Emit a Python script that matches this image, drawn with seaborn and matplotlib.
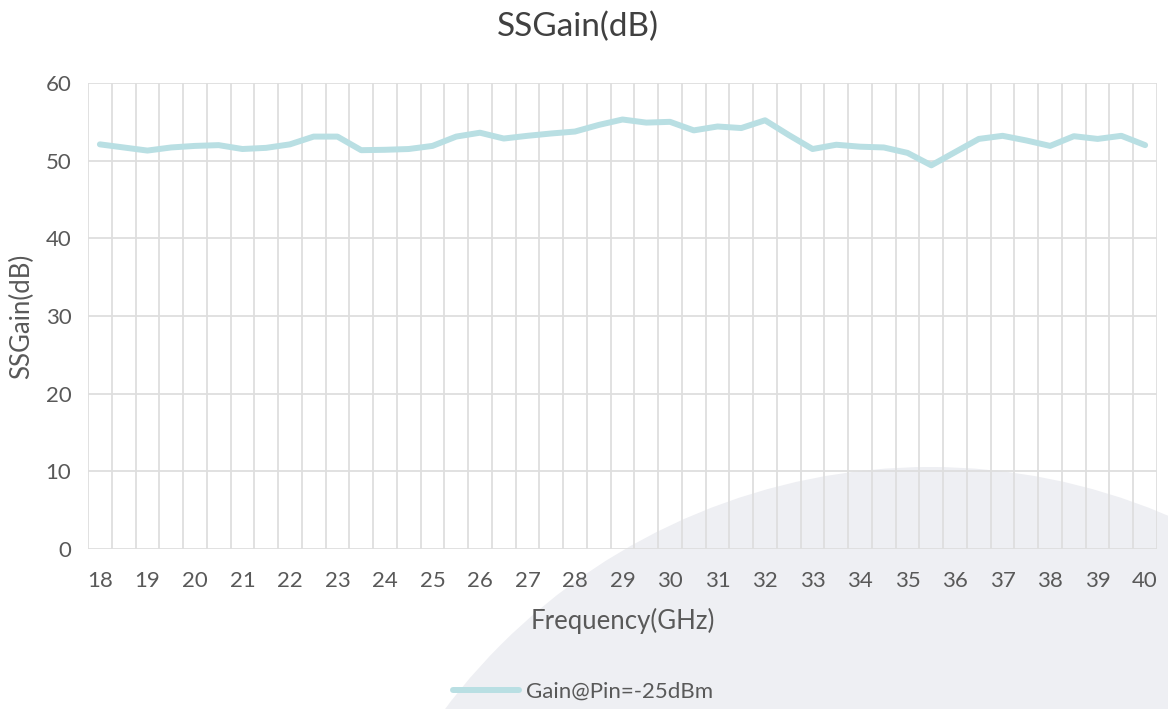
import numpy as np
import pandas as pd
import matplotlib
matplotlib.use("Agg")
import matplotlib.pyplot as plt
from matplotlib.patches import Ellipse
from matplotlib.ticker import MultipleLocator
import seaborn as sns

# ------------------------------
# Data
# ------------------------------
freq_ghz = np.arange(18.0, 40.01, 0.5)
gain_db = [52.1, 51.7, 51.3, 51.7, 51.9, 52.0, 51.5, 51.65, 52.1, 53.1,
           53.1, 51.35, 51.4, 51.5, 51.9, 53.1, 53.6, 52.85, 53.2, 53.5,
           53.75, 54.6, 55.3, 54.9, 55.0, 53.9, 54.4, 54.2, 55.2, 53.3,
           51.5, 52.05, 51.8, 51.7, 51.0, 49.4, 51.1, 52.8, 53.2, 52.6,
           51.9, 53.15, 52.8, 53.2, 52.0]
series_name = "Gain@Pin=-25dBm"
x_ticks = list(range(18, 41))
y_ticks = [0, 10, 20, 30, 40, 50, 60]

df = pd.DataFrame({"Frequency(GHz)": freq_ghz, "SSGain(dB)": gain_db, "series": series_name})

# ------------------------------
# Style
# ------------------------------
sns.set_theme(style="white")
plt.rcParams['font.family'] = ['Lato', 'DejaVu Sans']
text_color = '#595959'
grid_color = '#DEDEDE'
line_color = '#B9DFE3'

fig = plt.figure(figsize=(11.68, 7.09), dpi=100)
fig.patch.set_facecolor('white')

# decorative grey arc in the background (behind everything)
W, H = 1168, 709
circle = Ellipse((930 / W, 1 - 1074 / H), 2 * 607 / W, 2 * 607 / H,
                 transform=fig.transFigure, facecolor='#EEEFF3', edgecolor='none', zorder=-10)
fig.patches.append(circle)

ax = fig.add_axes([88 / W, 1 - 549 / H, (1157 - 88) / W, (549 - 83) / H])
ax.set_facecolor('none')
ax.set_zorder(1)

sns.lineplot(data=df, x="Frequency(GHz)", y="SSGain(dB)", hue="series",
             palette=[line_color], linewidth=4.3, ax=ax, legend=True,
             solid_capstyle='round', zorder=3)

ax.set_xlim(17.75, 40.25)
ax.set_ylim(0, 60)
ax.set_xticks(x_ticks)
ax.set_yticks(y_ticks)
ax.xaxis.set_minor_locator(MultipleLocator(0.5, offset=0.25))
ax.grid(False)
ax.grid(True, axis='y', which='major', color=grid_color, linewidth=1.3, zorder=1)
ax.grid(True, axis='x', which='minor', color=grid_color, linewidth=1.3, zorder=1)
ax.tick_params(axis='both', which='both', length=0, labelsize=16, colors=text_color)
ax.tick_params(axis='x', pad=16)
ax.tick_params(axis='y', pad=12)
for s in ax.spines.values():
    s.set_visible(False)

ax.set_xlabel("Frequency(GHz)", fontsize=18.5, color=text_color, labelpad=12)
ax.set_ylabel("SSGain(dB)", fontsize=18.5, color=text_color, labelpad=8)
fig.text(578 / W, 1 - 27 / H, "SSGain(dB)", ha='center', va='center', fontsize=24, color='#404040')

leg = ax.legend(loc='center', bbox_to_anchor=(583 / W, 1 - 692 / H), bbox_transform=fig.transFigure,
                frameon=False, fontsize=16, handlelength=3.0, handletextpad=0.3)
for t in leg.get_texts():
    t.set_color(text_color)

fig.savefig("out.png", dpi=100)
